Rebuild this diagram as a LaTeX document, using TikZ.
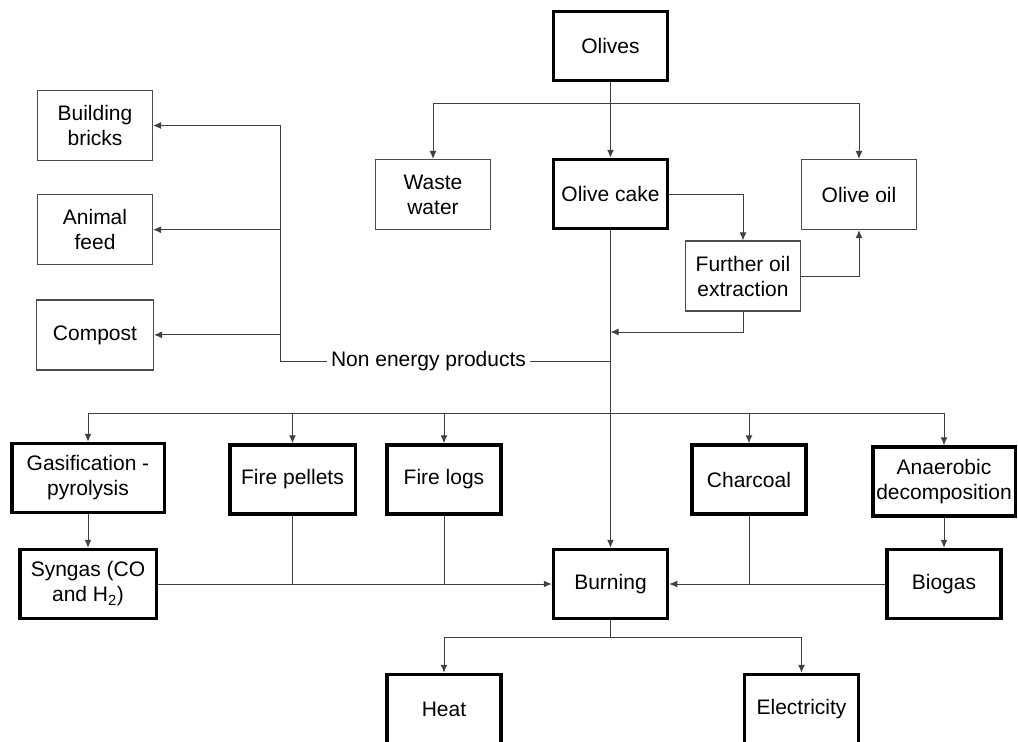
\documentclass[tikz,border=0pt]{standalone}
\usepackage{fontspec}
\setmainfont{Liberation Sans}
\usetikzlibrary{shapes,arrows.meta}
\usetikzlibrary{positioning}
\definecolor{wire}{HTML}{404040}
\tikzstyle{block} = [draw=black!70, rectangle, line width=1.2pt,
minimum width=115pt, minimum height=70pt, align=center, inner sep=2pt]
\tikzstyle{stage} = [block, draw=black, line width=3.5pt,
minimum width=114pt, minimum height=69pt]
\tikzstyle{line} = [draw, wire, line width=1pt, -{Latex[length=8pt,width=7pt]}]
\tikzstyle{link} = [draw, wire, line width=1pt]

\begin{document}
\begin{tikzpicture}[x=1pt, y=-1pt, font=\fontsize{21}{25}\selectfont]
    \useasboundingbox (0,0) rectangle (1018,742);
    \node [stage] (olives) at (610.5,46) {Olives};
    \node [stage] (cake) at (610.5,194) {Olive cake};
    \node [block] (waste) at (433,194.5) {Waste\\water};
    \node [block] (oil) at (859,194.5) {Olive oil};
    \node [block] (further) at (743,276) {Further oil\\extraction};
    \node [block] (bricks) at (95,125.5) {Building\\bricks};
    \node [block, below=33pt of bricks] (feed) {Animal\\feed};
    \node [block, below=34pt of feed, minimum width=117pt] (compost) {Compost};
    \node [inner xsep=4pt, inner ysep=2pt] (nep) at (428.5,361) {Non energy products};
    \node [stage, minimum width=152.5pt] (gasif) at (88,478) {Gasification -\\pyrolysis};
    \node [stage, minimum width=125.5pt] (pellets) at (292.5,479.5) {Fire pellets};
    \node [stage] (logs) at (444,479.5) {Fire logs};
    \node [stage] (charcoal) at (749,479.5) {Charcoal};
    \node [stage, minimum width=142.5pt] (anaer) at (944,481.5) {Anaerobic\\decomposition};
    \node [stage, minimum width=136.5pt] (syngas) at (88,584) {Syngas (CO\\and H\textsubscript{2})};
    \node [stage] (burning) at (610.5,584) {Burning};
    \node [stage] (biogas) at (944,584) {Biogas};
    \node [stage] (heat) at (444,709) {Heat};
    \node [stage, right=240pt of heat] (elec) {Electricity};
    %% Junctions
    \coordinate (s1) at (610.5,103);
    \coordinate (s2) at (610.5,332);
    \coordinate (s3) at (610.5,361);
    \coordinate (ne) at (280,361);
    \coordinate (s4) at (610.5,413);
    \coordinate (s5) at (610.5,637);
    %% Olives and oil
    \path [line] (olives) -- (cake);
    \path [line] (s1) -| (waste);
    \path [line] (s1) -| (oil);
    \path [line] (cake) -| (further);
    \path [line] (further) -| (oil);
    \path [line] (further.south) |- (s2);
    \path [line] (cake) -- (burning);
    %% Non energy products
    \path [link] (s3) -- (nep) -- (ne);
    \path [line] (ne) |- (bricks);
    \path [line] (ne) |- (feed);
    \path [line] (ne) |- (compost);
    %% Energy routes
    \path [line] (s4) -| (gasif);
    \path [line] (s4) -| (pellets);
    \path [line] (s4) -| (logs);
    \path [line] (s4) -| (charcoal);
    \path [line] (s4) -| (anaer);
    \path [line] (gasif) -- (syngas);
    \path [line] (anaer) -- (biogas);
    \path [line] (syngas) -- (burning);
    \path [link] (pellets) -- (pellets |- burning);
    \path [link] (logs) -- (logs |- burning);
    \path [link] (charcoal) -- (charcoal |- burning);
    \path [line] (biogas) -- (burning);
    %% Burning outputs
    \path [link] (burning) -- (s5);
    \path [line] (s5) -| (heat);
    \path [line] (s5) -| (elec);
\end{tikzpicture}
\end{document}
